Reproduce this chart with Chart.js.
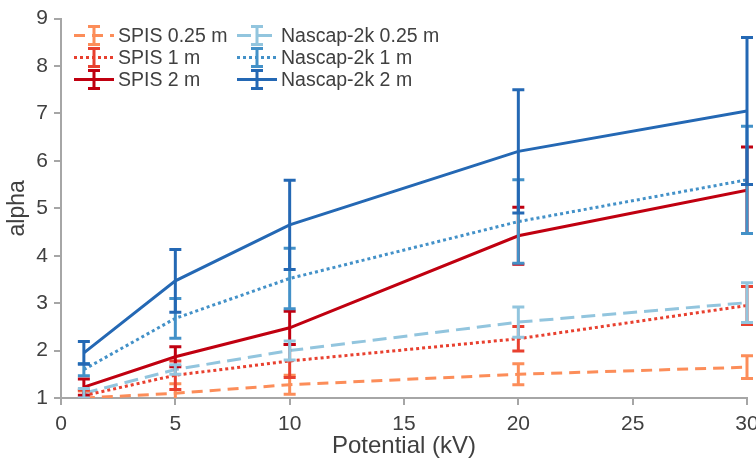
<!DOCTYPE html>
<html>
<head>
<meta charset="utf-8">
<script src="https://cdn.jsdelivr.net/npm/chart.js@4.4.1/dist/chart.umd.min.js"></script>
<style>
    html, body { margin: 0; padding: 0; background: #ffffff; }
    #wrap { width: 756px; height: 462px; }
</style>
</head>
<body>
<div id="wrap"><canvas id="alphaChart" width="756" height="462"></canvas></div>
<script>
// potentials in kV
const potentials = [1, 5, 10, 20, 30];
const xTicks = [0, 5, 10, 15, 20, 25, 30];
const yTicks = [1, 2, 3, 4, 5, 6, 7, 8, 9];

// alpha values and error half-widths
const spis025 = [1.0, 1.1, 1.28, 1.5, 1.65];
const spis025Err = [0.15, 0.2, 0.2, 0.22, 0.24];
const spis1 = [1.05, 1.48, 1.78, 2.25, 2.95];
const spis1Err = [0.12, 0.3, 0.35, 0.26, 0.4];
const spis2 = [1.23, 1.87, 2.48, 4.42, 5.38];
const spis2Err = [0.17, 0.21, 0.35, 0.6, 0.91];
const nascap025 = [1.1, 1.6, 2.0, 2.6, 3.01];
const nascap025Err = [0.1, 0.1, 0.2, 0.32, 0.42];
const nascap1 = [1.6, 2.68, 3.52, 4.72, 5.6];
const nascap1Err = [0.13, 0.42, 0.64, 0.88, 1.13];
const nascap2 = [1.95, 3.47, 4.65, 6.2, 7.05];
const nascap2Err = [0.24, 0.66, 0.94, 1.3, 1.55];

const FONT = "'Liberation Sans', Arial, sans-serif";
const TEXT = '#404040';
const AXIS = '#a6a6a6';

function makeSeries(label, values, errors, color, dash) {
    return {
        label: label,
        data: values.map((v, i) => ({ x: potentials[i], y: v })),
        errors: errors,
        borderColor: color,
        backgroundColor: color,
        borderWidth: 3,
        borderDash: dash,
        pointRadius: 0,
        tension: 0,
        fill: false
    };
}

const datasets = [
    makeSeries('SPIS 0.25 m', spis025, spis025Err, '#fc8d59', [11, 7]),
    makeSeries('SPIS 1 m', spis1, spis1Err, '#e8402f', [3, 3]),
    makeSeries('SPIS 2 m', spis2, spis2Err, '#c00010', []),
    makeSeries('Nascap-2k 0.25 m', nascap025, nascap025Err, '#92c5de', [14, 7]),
    makeSeries('Nascap-2k 1 m', nascap1, nascap1Err, '#4391c8', [3, 3]),
    makeSeries('Nascap-2k 2 m', nascap2, nascap2Err, '#2468b4', [])
];

// vertical error bars with caps, drawn through the scales
const errorBars = {
    id: 'errorBars',
    afterDatasetsDraw(chart) {
        const ctx = chart.ctx;
        const xs = chart.scales.x;
        const ys = chart.scales.y;
        const area = chart.chartArea;
        ctx.save();
        ctx.beginPath();
        ctx.rect(area.left - 10, area.top - 10, area.right - area.left + 20, area.bottom - area.top + 10);
        ctx.clip();
        ctx.setLineDash([]);
        ctx.lineWidth = 3;
        chart.data.datasets.forEach(ds => {
            ctx.strokeStyle = ds.borderColor;
            ds.data.forEach((p, i) => {
                const px = xs.getPixelForValue(p.x);
                const top = ys.getPixelForValue(p.y + ds.errors[i]);
                const bot = ys.getPixelForValue(p.y - ds.errors[i]);
                ctx.beginPath();
                ctx.moveTo(px, top);
                ctx.lineTo(px, bot);
                ctx.moveTo(px - 6, top);
                ctx.lineTo(px + 6, top);
                ctx.moveTo(px - 6, bot);
                ctx.lineTo(px + 6, bot);
                ctx.stroke();
            });
        });
        ctx.restore();
    }
};

// two-column legend inside the plot, top left
const boxLegend = {
    id: 'boxLegend',
    afterDraw(chart) {
        const ctx = chart.ctx;
        const area = chart.chartArea;
        const cols = [area.left + 13, area.left + 176];
        const rows = [area.top + 17, area.top + 39, area.top + 61];
        ctx.save();
        ctx.font = '19.5px ' + FONT;
        ctx.textBaseline = 'middle';
        ctx.fillStyle = TEXT;
        chart.data.datasets.forEach((ds, i) => {
            const x = cols[Math.floor(i / 3)];
            const y = rows[i % 3];
            ctx.strokeStyle = ds.borderColor;
            ctx.lineWidth = 3;
            ctx.setLineDash(ds.borderDash);
            ctx.beginPath();
            ctx.moveTo(x, y);
            ctx.lineTo(x + 40, y);
            ctx.stroke();
            ctx.setLineDash([]);
            ctx.beginPath();
            ctx.moveTo(x + 20, y - 9);
            ctx.lineTo(x + 20, y + 9);
            ctx.moveTo(x + 14, y - 9);
            ctx.lineTo(x + 26, y - 9);
            ctx.moveTo(x + 14, y + 9);
            ctx.lineTo(x + 26, y + 9);
            ctx.stroke();
            ctx.fillText(ds.label, x + 44, y + 1);
        });
        ctx.restore();
    }
};

new Chart(document.getElementById('alphaChart'), {
    type: 'line',
    data: { datasets: datasets },
    plugins: [errorBars, boxLegend],
    options: {
        responsive: false,
        animation: false,
        layout: { padding: { top: 16, right: 9, left: 0, bottom: 0 } },
        plugins: {
            legend: { display: false },
            tooltip: { enabled: false }
        },
        scales: {
            x: {
                type: 'linear',
                min: 0,
                max: 30,
                afterBuildTicks: scale => { scale.ticks = xTicks.map(v => ({ value: v })); },
                afterFit: scale => {
                    scale.height = 64;
                    scale.paddingLeft = 0;
                    scale.paddingRight = 0;
                },
                grid: { drawOnChartArea: false, drawTicks: true, tickLength: 7, color: AXIS, lineWidth: 2 },
                border: { color: AXIS, width: 2 },
                ticks: { color: TEXT, font: { family: FONT, size: 21 }, padding: 7 },
                title: { display: true, text: 'Potential (kV)', color: TEXT, font: { family: FONT, size: 24 }, padding: { top: 0, bottom: 1 } }
            },
            y: {
                type: 'linear',
                min: 1,
                max: 9,
                afterBuildTicks: scale => { scale.ticks = yTicks.map(v => ({ value: v })); },
                afterFit: scale => { scale.width = 61; },
                grid: { drawOnChartArea: false, drawTicks: true, tickLength: 7, color: AXIS, lineWidth: 2 },
                border: { color: AXIS, width: 2 },
                ticks: { color: TEXT, font: { family: FONT, size: 21 }, padding: 6 },
                title: { display: true, text: 'alpha', color: TEXT, font: { family: FONT, size: 23 }, padding: { top: 4, bottom: 0 } }
            }
        }
    }
});
</script>
</body>
</html>
